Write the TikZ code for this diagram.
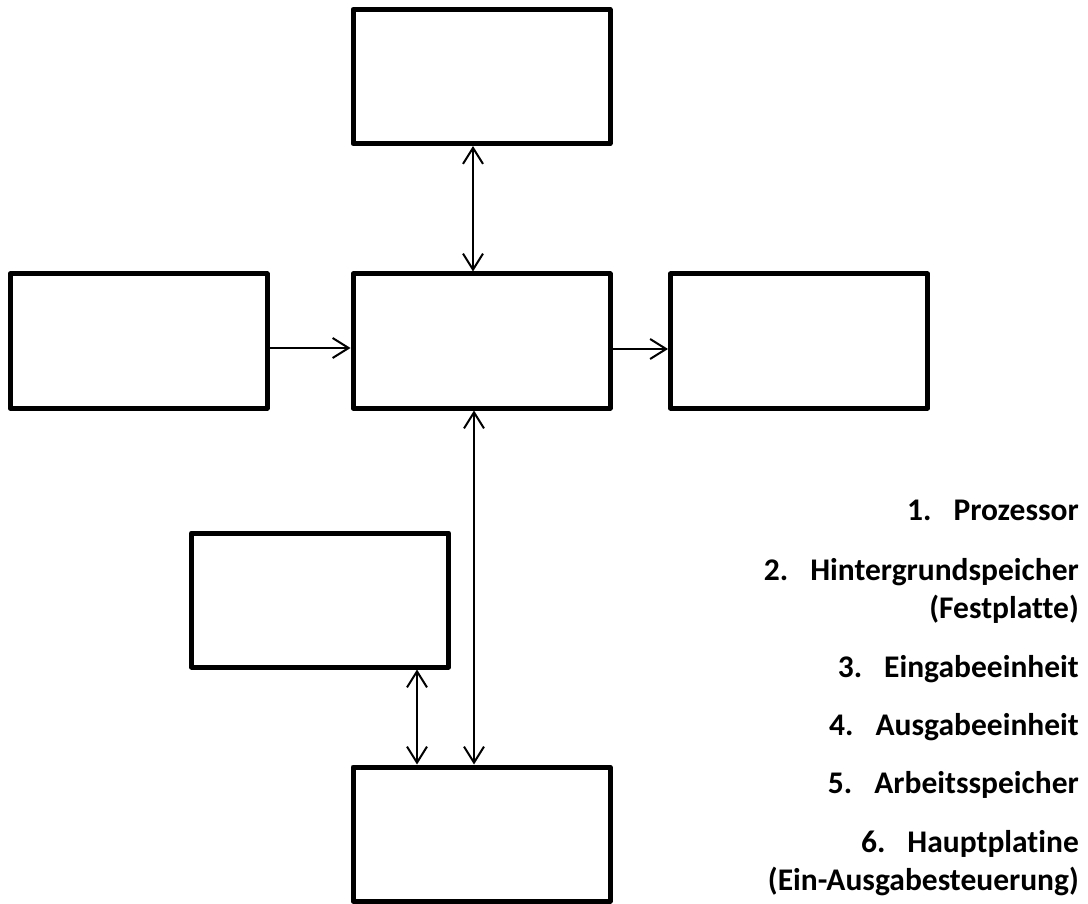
\documentclass[tikz,border=0pt]{standalone}
\usepackage{fontspec}
\setmainfont{Carlito}[Ligatures=NoCommon]
\usetikzlibrary{arrows.meta}

\tikzset{
  box/.style={draw,line width=5pt,line join=round,minimum width=257pt,minimum height=134pt,inner sep=0pt},
  oneway/.style={line width=2pt,-{Straight Barb[length=16pt,width=20pt]}},
  twoway/.style={line width=2pt,{Straight Barb[length=16pt,width=20pt]}-{Straight Barb[length=16pt,width=20pt]}},
  legend/.style={anchor=base east,inner sep=0pt,font=\bfseries\fontsize{31.5}{38}\selectfont}
}

\begin{document}
\begin{tikzpicture}[x=1pt,y=-1pt]
  \useasboundingbox (0,0) rectangle (1088,904);

  % boxes
  \node[box] (top)     at (481.5,76.5) {};
  \node[box] (center)  at (481.5,341)  {};
  \node[box] (left)    at (138.5,341)  {};
  \node[box] (right)   at (799,341)    {};
  \node[box] (lowleft) at (320,600)    {};
  \node[box] (bottom)  at (481.5,834)  {};

  % connectors
  \draw[twoway] ([xshift=-8.5pt]top.south) -- ([xshift=-8.5pt]center.north);
  \draw[oneway] ([yshift=-7pt]left.east) -- ([yshift=-7pt]center.west);
  \draw[oneway] ([yshift=-8pt]center.east) -- ([yshift=-8pt]right.west);
  \draw[twoway] ([xshift=-7.5pt]center.south) -- ([xshift=-7.5pt]bottom.north);
  \draw[twoway] ([xshift=97pt]lowleft.south) -- ([xshift=97pt]lowleft.south |- bottom.north);

  % legend
  \node[legend] (l1)  at (1079,520) {1.\hspace{22pt}Prozessor};
  \node[legend] (l2)  at (1079,580) {2.\hspace{22pt}Hintergrundspeicher};
  \node[legend] (l2b) at (1079,618) {(Festplatte)};
  \node[legend] (l3)  at (1079,677) {3.\hspace{22pt}Eingabeeinheit};
  \node[legend] (l4)  at (1079,735) {4.\hspace{22pt}Ausgabeeinheit};
  \node[legend] (l5)  at (1079,793) {5.\hspace{22pt}Arbeitsspeicher};
  \node[legend] (l6)  at (1079,852) {6.\hspace{22pt}Hauptplatine};
  \node[legend] (l6b) at (1079,890) {(Ein-Ausgabesteuerung)};
\end{tikzpicture}
\end{document}
